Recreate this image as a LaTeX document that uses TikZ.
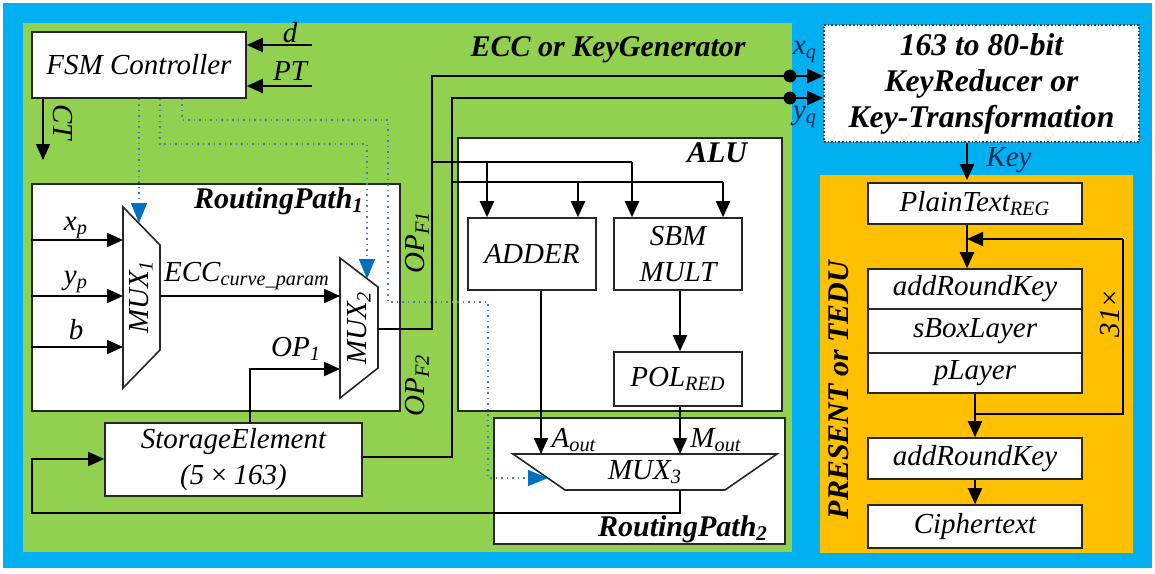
\documentclass[tikz,border=0pt]{standalone}
\usepackage{fontspec}
\setmainfont{Liberation Serif}
\usetikzlibrary{arrows.meta,calc}
\definecolor{bgblue}{HTML}{00B0F0}
\definecolor{panelgreen}{HTML}{92D050}
\definecolor{panelorange}{HTML}{FFC000}
\definecolor{ctrlblue}{HTML}{0070C0}
\definecolor{ctrlline}{HTML}{4A78B0}
\definecolor{navytext}{HTML}{102A55}
\begin{document}
\begin{tikzpicture}[x=0.5pt,y=-0.5pt,
  every node/.style={font=\fontsize{14.5}{18}\selectfont\itshape, inner sep=0pt},
  box/.style={draw=black!85, line width=0.8pt, fill=white, align=center},
  title/.style={font=\fontsize{15}{18}\selectfont\bfseries\itshape},
  wire/.style={line width=1pt, draw=black},
  arr/.style={wire, -{Triangle[length=8pt,width=7pt]}},
  ctrl/.style={draw=ctrlline, line width=0.75pt, dotted, -{Triangle[length=10pt,width=8pt,color=ctrlblue,fill=ctrlblue]}},
  muxshape/.style={draw=black!85, line width=0.8pt, fill=white},
  dotp/.style={fill=black}
]
% background and panels
\useasboundingbox (0,0) rectangle (1155,573);
\fill[white] (0,0) rectangle (1155,573);
\fill[bgblue] (3,3) rectangle (1152,568);
\fill[panelgreen] (23,23) rectangle (792,552);
\fill[panelorange] (820,175) rectangle (1133,553);

% green panel title
\node[title] (ecctitle) at (608,50) {ECC or KeyGenerator};

% FSM controller
\node[box, minimum width=107pt, minimum height=33pt] (fsm) at (139,65) {FSM Controller};
\coordinate (din) at (312,45);
\coordinate (ptin) at (312,86);
\draw[arr] (din) -- (din -| fsm.east);
\draw[arr] (ptin) -- (ptin -| fsm.east);
\node (dlab) at (290,33) {d};
\node (ptlab) at (290,71) {PT};
\coordinate (ctend) at (43,160);
\draw[arr] (ctend |- fsm.south) -- (ctend);
\node[rotate=-90] (ctlab) at (63,122) {CT};

% Routing path 1
\node[box, minimum width=184pt, minimum height=113.5pt] (rp1) at (216,297.5) {};
\node[title] (rp1lab) at (279,201) {RoutingPath\textsubscript{1}};

% MUX1
\draw[muxshape] (123,207) -- (160,245) -- (160,350) -- (123,388) -- cycle;
\node[rotate=90] (mux1) at (141,297) {MUX\textsubscript{1}};
\coordinate (m1a) at (123,240);
\coordinate (m1b) at (123,296);
\coordinate (m1c) at (123,347);
\coordinate (m1out) at (160,296);
\coordinate (m1top) at (139,223);
\draw[arr] (m1a -| rp1.west) -- (m1a);
\draw[arr] (m1b -| rp1.west) -- (m1b);
\draw[arr] (m1c -| rp1.west) -- (m1c);
\node (xplab) at (76,228) {x\textsubscript{p}};
\node (yplab) at (76,282) {y\textsubscript{p}};
\node (blab) at (76,330) {b};

% MUX2
\draw[muxshape] (340,258) -- (378,287) -- (378,368) -- (340,398) -- cycle;
\node[rotate=90] (mux2) at (359,328) {MUX\textsubscript{2}};
\coordinate (m2a) at (340,296);
\coordinate (m2b) at (340,369);
\coordinate (m2out) at (378,329);
\coordinate (m2top) at (367,279);
\draw[arr] (m1out) -- (m2a);
\node (ecclab) at (247,276) {ECC\textsubscript{curve\_param}};

% Storage element
\node[box, minimum width=128.5pt, minimum height=36.5pt] (store) at (233.5,459.5) {StorageElement\\(5\,×\,163)};
\draw[arr] (store.north -| 250,0) -- (250,369) -- (m2b);
\node (op1lab) at (296,349) {OP\textsubscript{1}};

% ALU
\node[box, minimum width=162pt, minimum height=136.5pt] (alu) at (620,274.5) {};
\node[title] (alulab) at (717,153) {ALU};
\node[box, minimum width=64pt, minimum height=36pt] (adder) at (532,254) {ADDER};
\node[box, minimum width=64pt, minimum height=36pt] (sbm) at (678,254) {SBM\\MULT};
\node[box, minimum width=64pt, minimum height=27pt] (pol) at (678,379) {POL\textsubscript{RED}};

% Routing path 2
\node[box, minimum width=145.5pt, minimum height=63pt] (rp2) at (639.5,481) {};
\node[title] (rp2lab) at (683,529) {RoutingPath\textsubscript{2}};
\draw[muxshape] (513,454) -- (777,454) -- (725,490) -- (565,490) -- cycle;
\node (mux3) at (645,472) {MUX\textsubscript{3}};
\coordinate (m3a) at (541,454);
\coordinate (m3m) at (680,454);
\coordinate (m3out) at (680,490);
\coordinate (m3side) at (548,478);

% Key reducer block
\node[box, draw=black!75, densely dotted, minimum width=157.5pt, minimum height=58.5pt, font=\fontsize{15.8}{18}\selectfont\bfseries\itshape] (keyred) at (981.5,83.5) {163 to 80-bit\\KeyReducer or\\Key-Transformation};

% outputs xq, yq
\coordinate (xqdot) at (790,76);
\coordinate (yqdot) at (790,98);
\draw[wire] (m2out) -- (432,329) -- (432,76) -- (xqdot);
\draw[wire] (store.east |- 0,457) -- (452,457) -- (452,98) -- (yqdot);
\fill[dotp] (xqdot) circle[radius=3.2pt];
\fill[dotp] (yqdot) circle[radius=3.2pt];
\draw[arr] (xqdot) -- (xqdot -| keyred.west);
\draw[arr] (yqdot) -- (yqdot -| keyred.west);
\node[text=navytext] (xqlab) at (805,52) {x\textsubscript{q}};
\node[text=navytext] (yqlab) at (805,117) {y\textsubscript{q}};
\node[rotate=90] (opf1) at (417,242) {OP\textsubscript{F1}};
\node[rotate=90] (opf2) at (417,385) {OP\textsubscript{F2}};

% ALU operand buses
\draw[wire] (432,162) -- (632,162);
\draw[wire] (452,182) -- (723,182);
\draw[arr] (487,162) -- (adder.north -| 487,0);
\draw[arr] (578,182) -- (adder.north -| 578,0);
\draw[arr] (632,162) -- (sbm.north -| 632,0);
\draw[arr] (723,182) -- (sbm.north -| 723,0);
\draw[arr] (sbm.south -| 680,0) -- (pol.north -| 680,0);
\draw[arr] (adder.south -| m3a) -- (m3a);
\draw[arr] (pol.south -| m3m) -- (m3m);
\node (aoutlab) at (574,440) {A\textsubscript{out}};
\node (moutlab) at (716,440) {M\textsubscript{out}};

% feedback to storage
\draw[arr] (m3out) -- (680,513) -- (32,513) -- (32,459) -- (store.west |- 0,459);

% control lines
\draw[ctrl] (fsm.south -| m1top) -- (m1top);
\draw[ctrl] (fsm.south -| 160,0) -- (160,144) -- (367,144) -- (m2top);
\draw[ctrl] (fsm.south -| 182,0) -- (182,120) -- (388,120) -- (388,302) -- (488,302) -- (488,478) -- (m3side);

% PRESENT / TEDU
\node[title, rotate=90] (presentlab) at (839,390) {PRESENT or TEDU};
\node[box, minimum width=107pt, minimum height=20.5pt] (plain) at (975,203.5) {PlainText\textsubscript{REG}};
\node[box, minimum width=107pt, minimum height=20pt] (ark1) at (975,289) {addRoundKey};
\node[box, minimum width=107pt, minimum height=22pt] (sbox) at (975,331) {sBoxLayer};
\node[box, minimum width=107pt, minimum height=20pt] (play) at (975,373) {pLayer};
\node[box, minimum width=107pt, minimum height=20.5pt] (ark2) at (975,458.5) {addRoundKey};
\node[box, minimum width=107pt, minimum height=21.5pt] (cipher) at (975,526.5) {Ciphertext};
\draw[arr] (keyred.south -| 967,0) -- (967,180);
\node[text=navytext, anchor=west] (keylab) at (986,160) {Key};
\draw[arr] (plain.south -| 967,0) -- (ark1.north -| 967,0);
\coordinate (loopin) at (967,239);
\draw[arr] (play.south -| 975,0) -- (ark2.north -| 975,0);
\draw[wire] (975,414) -- (1123,414) -- (1123,239);
\draw[arr] (1123,239) -- (loopin);
\node[rotate=90] (rounds) at (1110,313) {31×};
\draw[arr] (ark2.south -| 975,0) -- (cipher.north -| 975,0);
\end{tikzpicture}
\end{document}
